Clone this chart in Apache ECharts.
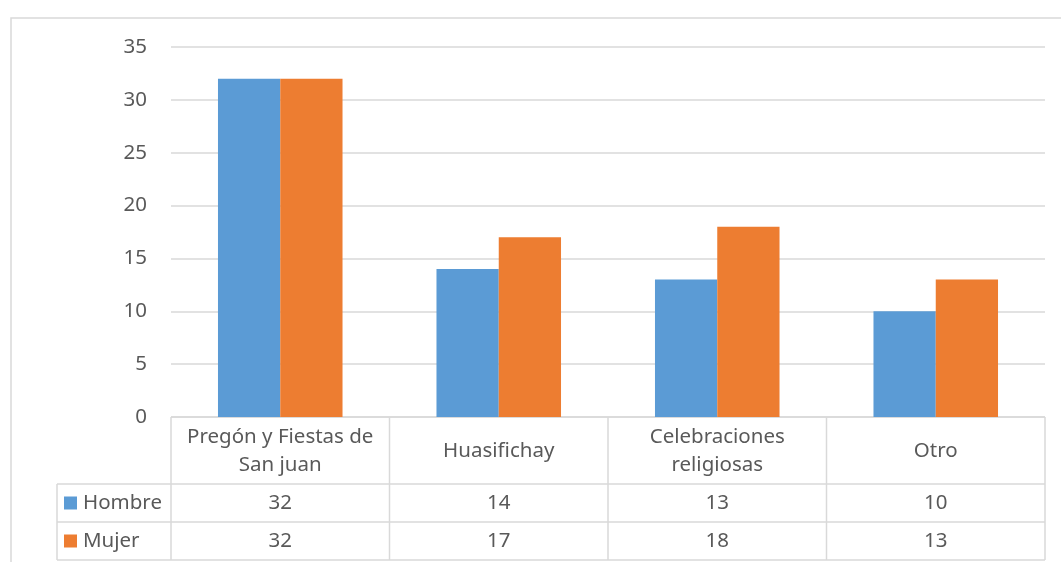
<!DOCTYPE html>
<html>
<head>
<meta charset="utf-8">
<script src="https://cdn.jsdelivr.net/npm/echarts@6/dist/echarts.min.js"></script>
<style>
  html, body { margin: 0; padding: 0; background: #fff; }
  #chart { width: 1061px; height: 562px; }
</style>
</head>
<body>
<div id="chart"></div>
<script>
// categorias (con salto de linea como en la tabla)
const categories = ["Pregón y Fiestas de\nSan juan", "Huasifichay", "Celebraciones\nreligiosas", "Otro"];
const hombre = [32, 14, 13, 10];
const mujer = [32, 17, 18, 13];
const seriesNames = ["Hombre", "Mujer"];
const colors = ["#5B9BD5", "#ED7D31"];

const FONT = "Noto Sans";
const FSIZE = 20.5;
const TXT = "#595959";
const LINE = "#D9D9D9";

// area del grafico
const G = { left: 171, right: 1045, top: 47, bottom: 417 };
const rows = [417, 484, 522, 560];
const legendLeft = 57;

const chart = echarts.init(document.getElementById("chart"));

function tableGraphic() {
  const els = [];
  const colW = (G.right - G.left) / categories.length;
  const font = FSIZE + "px '" + FONT + "'";
  const line = (x1, y1, x2, y2) => ({
    type: "line",
    shape: { x1, y1, x2, y2 },
    style: { stroke: LINE, lineWidth: 1.5 },
    silent: true
  });
  // marco exterior
  els.push({
    type: "rect",
    shape: { x: 11, y: 18, width: 1070, height: 600 },
    style: { fill: null, stroke: LINE, lineWidth: 1.5 },
    silent: true
  });
  // lineas horizontales
  els.push(line(G.left, rows[0], G.right, rows[0]));
  for (let i = 1; i < rows.length; i++) {
    els.push(line(legendLeft, rows[i], G.right, rows[i]));
  }
  // lineas verticales
  els.push(line(legendLeft, rows[1], legendLeft, rows[3]));
  for (let i = 0; i <= categories.length; i++) {
    const x = G.left + i * colW;
    els.push(line(x, rows[0], x, rows[3]));
  }
  // cabecera
  categories.forEach((c, i) => {
    els.push({
      type: "text",
      x: G.left + (i + 0.5) * colW,
      y: (rows[0] + rows[1]) / 2 + 1,
      style: {
        text: c, fill: TXT, font: font,
        align: "center", verticalAlign: "middle", lineHeight: 28
      },
      silent: true
    });
  });
  // filas de datos
  [hombre, mujer].forEach((vals, r) => {
    const cy = (rows[r + 1] + rows[r + 2]) / 2;
    els.push({
      type: "rect",
      shape: { x: 64, y: cy - 6.5, width: 13, height: 13 },
      style: { fill: colors[r] },
      silent: true
    });
    els.push({
      type: "text",
      x: 83, y: cy,
      style: { text: seriesNames[r], fill: TXT, font: font, verticalAlign: "middle" },
      silent: true
    });
    vals.forEach((v, i) => {
      els.push({
        type: "text",
        x: G.left + (i + 0.5) * colW, y: cy,
        style: { text: String(v), fill: TXT, font: font, align: "center", verticalAlign: "middle" },
        silent: true
      });
    });
  });
  return els;
}

chart.setOption({
  animation: false,
  backgroundColor: "#fff",
  grid: { left: G.left, right: 1061 - G.right, top: G.top, bottom: 562 - G.bottom },
  xAxis: {
    type: "category",
    data: categories,
    axisLine: { show: false },
    axisTick: { show: false },
    axisLabel: { show: false },
    splitLine: { show: false }
  },
  yAxis: {
    type: "value",
    min: 0,
    max: 35,
    interval: 5,
    axisLine: { show: false },
    axisTick: { show: false },
    axisLabel: { color: TXT, fontFamily: FONT, fontSize: FSIZE, margin: 24 },
    splitLine: { lineStyle: { color: LINE, width: 1.5 } }
  },
  series: [
    { name: seriesNames[0], type: "bar", data: hombre, barWidth: "28.5%", barGap: "0%", itemStyle: { color: colors[0] } },
    { name: seriesNames[1], type: "bar", data: mujer, barWidth: "28.5%", barGap: "0%", itemStyle: { color: colors[1] } }
  ],
  graphic: tableGraphic()
});
</script>
</body>
</html>
